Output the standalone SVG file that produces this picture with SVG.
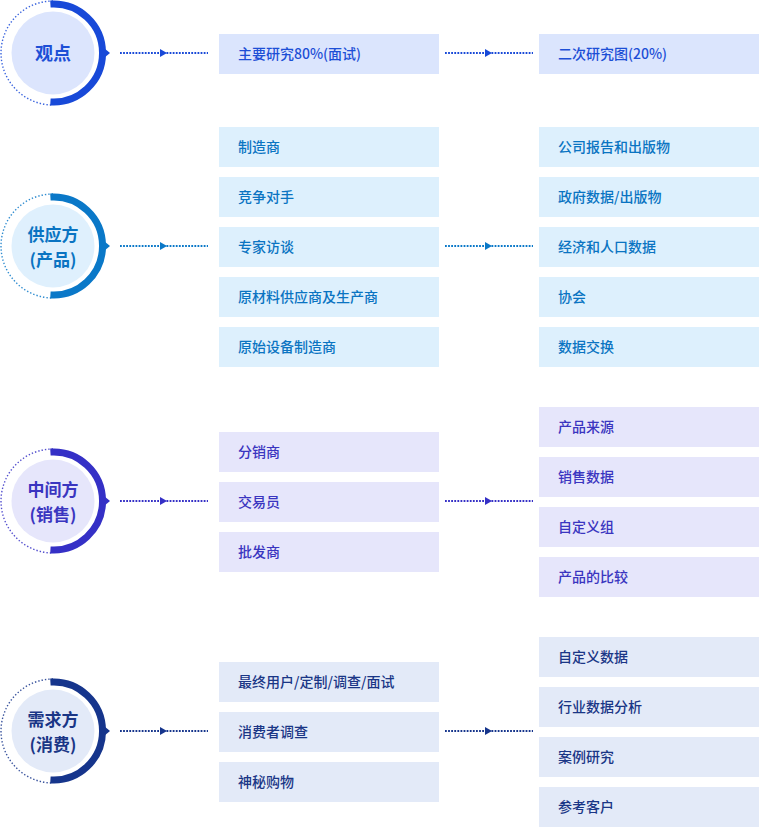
<svg xmlns="http://www.w3.org/2000/svg" width="759" height="827" viewBox="0 0 759 827">
<defs>
<style>
text{font-family:"Noto Sans CJK SC","Noto Sans",sans-serif}
.t{font-size:14px;font-weight:500}
.h{font-size:18px;font-weight:bold;text-anchor:middle}
.h2{font-size:17px}
.dot{fill:none;stroke-width:1.4;stroke-dasharray:1.4 2;opacity:0.85}
.arc{fill:none;stroke-width:7}
.ln{fill:none;stroke-width:2;stroke-dasharray:1.8 1.3}
.c1 .bx{fill:#dbe5fd}.c1 .t,.c1 .h{fill:#1d4fd6}.c1 .arc,.c1 .dot,.c1 .ln{stroke:#1849d8}.c1 .ah{fill:#1849d8}.c1 .in{fill:#dce5fd}
.c2 .bx{fill:#ddf0fd}.c2 .t,.c2 .h{fill:#0a74c2}.c2 .arc,.c2 .dot,.c2 .ln{stroke:#0a78c8}.c2 .ah{fill:#0a78c8}.c2 .in{fill:#dff0fd}
.c3 .bx{fill:#e6e6fb}.c3 .t,.c3 .h{fill:#3a35c0}.c3 .arc,.c3 .dot,.c3 .ln{stroke:#3530c6}.c3 .ah{fill:#3530c6}.c3 .in{fill:#e6e6fb}
.c4 .bx{fill:#e3eaf8}.c4 .t,.c4 .h{fill:#1a3686}.c4 .arc,.c4 .dot,.c4 .ln{stroke:#16358c}.c4 .ah{fill:#16358c}.c4 .in{fill:#e3eaf8}
</style>
</defs>

<!-- Row 1 -->
<g id="node-guandian" class="c1" transform="translate(53,53)">
<path class="dot" d="M0,-52 A52,52 0 0 0 0,52"/>
<circle class="in" r="41.5"/>
<path class="arc" d="M-2.6,-48.9 A49,49 0 1 1 -2.6,48.9"/>
<path class="ah" d="M51,-5 L57,0 L51,5 Z"/>
<text class="h" y="6.5">观点</text>
</g>
<g id="box-r1-a" class="c1"><rect class="bx" x="219" y="34" width="220" height="40"/><text class="t" x="238" y="59">主要研究80%(面试)</text></g>
<g id="box-r1-b" class="c1"><rect class="bx" x="539" y="34" width="220" height="40"/><text class="t" x="558" y="59">二次研究图(20%)</text></g>

<!-- Row 2 -->
<g id="node-gongying" class="c2" transform="translate(53,246)">
<path class="dot" d="M0,-52 A52,52 0 0 0 0,52"/>
<circle class="in" r="41.5"/>
<path class="arc" d="M-2.6,-48.9 A49,49 0 1 1 -2.6,48.9"/>
<path class="ah" d="M51,-5 L57,0 L51,5 Z"/>
<text class="h h2" y="-5.5">供应方</text>
<text class="h h2" y="19.5">(产品)</text>
</g>
<g id="box-r2-l1" class="c2"><rect class="bx" x="219" y="127" width="220" height="40"/><text class="t" x="238" y="152">制造商</text></g>
<g id="box-r2-l2" class="c2"><rect class="bx" x="219" y="177" width="220" height="40"/><text class="t" x="238" y="202">竞争对手</text></g>
<g id="box-r2-l3" class="c2"><rect class="bx" x="219" y="227" width="220" height="40"/><text class="t" x="238" y="252">专家访谈</text></g>
<g id="box-r2-l4" class="c2"><rect class="bx" x="219" y="277" width="220" height="40"/><text class="t" x="238" y="302">原材料供应商及生产商</text></g>
<g id="box-r2-l5" class="c2"><rect class="bx" x="219" y="327" width="220" height="40"/><text class="t" x="238" y="352">原始设备制造商</text></g>
<g id="box-r2-r1" class="c2"><rect class="bx" x="539" y="127" width="220" height="40"/><text class="t" x="558" y="152">公司报告和出版物</text></g>
<g id="box-r2-r2" class="c2"><rect class="bx" x="539" y="177" width="220" height="40"/><text class="t" x="558" y="202">政府数据/出版物</text></g>
<g id="box-r2-r3" class="c2"><rect class="bx" x="539" y="227" width="220" height="40"/><text class="t" x="558" y="252">经济和人口数据</text></g>
<g id="box-r2-r4" class="c2"><rect class="bx" x="539" y="277" width="220" height="40"/><text class="t" x="558" y="302">协会</text></g>
<g id="box-r2-r5" class="c2"><rect class="bx" x="539" y="327" width="220" height="40"/><text class="t" x="558" y="352">数据交换</text></g>

<!-- Row 3 -->
<g id="node-zhongjian" class="c3" transform="translate(53,501)">
<path class="dot" d="M0,-52 A52,52 0 0 0 0,52"/>
<circle class="in" r="41.5"/>
<path class="arc" d="M-2.6,-48.9 A49,49 0 1 1 -2.6,48.9"/>
<path class="ah" d="M51,-5 L57,0 L51,5 Z"/>
<text class="h h2" y="-5.5">中间方</text>
<text class="h h2" y="19.5">(销售)</text>
</g>
<g id="box-r3-l1" class="c3"><rect class="bx" x="219" y="432" width="220" height="40"/><text class="t" x="238" y="457">分销商</text></g>
<g id="box-r3-l2" class="c3"><rect class="bx" x="219" y="482" width="220" height="40"/><text class="t" x="238" y="507">交易员</text></g>
<g id="box-r3-l3" class="c3"><rect class="bx" x="219" y="532" width="220" height="40"/><text class="t" x="238" y="557">批发商</text></g>
<g id="box-r3-r1" class="c3"><rect class="bx" x="539" y="407" width="220" height="40"/><text class="t" x="558" y="432">产品来源</text></g>
<g id="box-r3-r2" class="c3"><rect class="bx" x="539" y="457" width="220" height="40"/><text class="t" x="558" y="482">销售数据</text></g>
<g id="box-r3-r3" class="c3"><rect class="bx" x="539" y="507" width="220" height="40"/><text class="t" x="558" y="532">自定义组</text></g>
<g id="box-r3-r4" class="c3"><rect class="bx" x="539" y="557" width="220" height="40"/><text class="t" x="558" y="582">产品的比较</text></g>

<!-- Row 4 -->
<g id="node-xuqiu" class="c4" transform="translate(53,731)">
<path class="dot" d="M0,-52 A52,52 0 0 0 0,52"/>
<circle class="in" r="41.5"/>
<path class="arc" d="M-2.6,-48.9 A49,49 0 1 1 -2.6,48.9"/>
<path class="ah" d="M51,-5 L57,0 L51,5 Z"/>
<text class="h h2" y="-5.5">需求方</text>
<text class="h h2" y="19.5">(消费)</text>
</g>
<g id="box-r4-l1" class="c4"><rect class="bx" x="219" y="662" width="220" height="40"/><text class="t" x="238" y="687">最终用户/定制/调查/面试</text></g>
<g id="box-r4-l2" class="c4"><rect class="bx" x="219" y="712" width="220" height="40"/><text class="t" x="238" y="737">消费者调查</text></g>
<g id="box-r4-l3" class="c4"><rect class="bx" x="219" y="762" width="220" height="40"/><text class="t" x="238" y="787">神秘购物</text></g>
<g id="box-r4-r1" class="c4"><rect class="bx" x="539" y="637" width="220" height="40"/><text class="t" x="558" y="662">自定义数据</text></g>
<g id="box-r4-r2" class="c4"><rect class="bx" x="539" y="687" width="220" height="40"/><text class="t" x="558" y="712">行业数据分析</text></g>
<g id="box-r4-r3" class="c4"><rect class="bx" x="539" y="737" width="220" height="40"/><text class="t" x="558" y="762">案例研究</text></g>
<g id="box-r4-r4" class="c4"><rect class="bx" x="539" y="787" width="220" height="40"/><text class="t" x="558" y="812">参考客户</text></g>

<!-- Connectors -->
<g id="connectors">
<g class="c1">
<path class="ln" d="M120,53 H208"/><path class="ah" d="M160,49 L167,53 L160,57 Z"/>
<path class="ln" d="M445,53 H533"/><path class="ah" d="M485,49 L492,53 L485,57 Z"/>
</g>
<g class="c2">
<path class="ln" d="M120,246 H208"/><path class="ah" d="M160,242 L167,246 L160,250 Z"/>
<path class="ln" d="M445,246 H533"/><path class="ah" d="M485,242 L492,246 L485,250 Z"/>
</g>
<g class="c3">
<path class="ln" d="M120,501 H208"/><path class="ah" d="M160,497 L167,501 L160,505 Z"/>
<path class="ln" d="M445,501 H533"/><path class="ah" d="M485,497 L492,501 L485,505 Z"/>
</g>
<g class="c4">
<path class="ln" d="M120,731 H208"/><path class="ah" d="M160,727 L167,731 L160,735 Z"/>
<path class="ln" d="M445,731 H533"/><path class="ah" d="M485,727 L492,731 L485,735 Z"/>
</g>
</g>
</svg>
